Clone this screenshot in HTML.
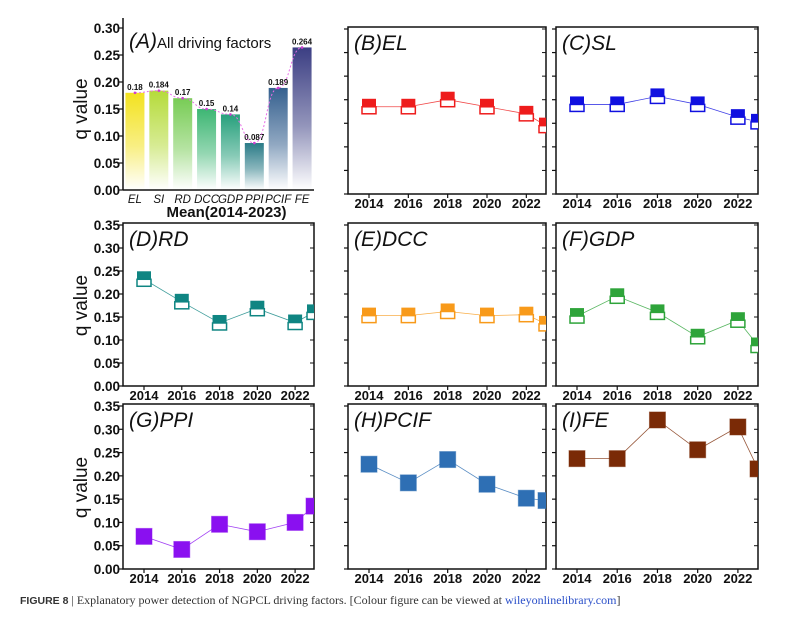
<!DOCTYPE html>
<html><head><meta charset="utf-8"><style>
body{margin:0;background:#fff;width:801px;height:629px;overflow:hidden;font-family:"Liberation Sans",sans-serif}
</style></head><body>
<svg id="fig" width="801" height="629" viewBox="0 0 801 629" xmlns="http://www.w3.org/2000/svg" font-family="Liberation Sans, sans-serif">
<defs id="defs"></defs>
<g id="root"></g>
<text x="20" y="604" style="font-family:'Liberation Serif',serif" font-size="12" fill="#333"><tspan style="font-family:'Liberation Sans',sans-serif" font-weight="bold" font-size="10.5">FIGURE 8</tspan>   |   Explanatory power detection of NGPCL driving factors. [Colour figure can be viewed at <tspan fill="#2a4fc9">wileyonlinelibrary.com</tspan>]</text>
</svg>
<script>
const barCats=["EL","SI","RD","DCC","GDP","PPI","PCIF","FE"];
const barVals=[0.18,0.184,0.17,0.15,0.14,0.087,0.189,0.264];
const barLabels=["0.18","0.184","0.17","0.15","0.14","0.087","0.189","0.264"];
const barColors=["#f3e21f","#b5db3a","#78cc55","#3db673","#27a07c","#2a7b87","#35608f","#3b3e83"];
const years=[2014,2016,2018,2020,2022,2023];
const yTicks=[0,0.05,0.10,0.15,0.20,0.25,0.30,0.35];
const xTicks=[2014,2016,2018,2020,2022];
const elVals=[0.185,0.185,0.20,0.185,0.17,0.145];
const slVals=[0.19,0.19,0.207,0.19,0.163,0.153];
const rdVals=[0.232,0.183,0.137,0.168,0.138,0.16];
const dccVals=[0.153,0.153,0.162,0.153,0.155,0.135];
const gdpVals=[0.152,0.195,0.160,0.107,0.143,0.088];
const ppiVals=[0.07,0.042,0.096,0.08,0.10,0.135];
const pcifVals=[0.225,0.185,0.235,0.182,0.152,0.147];
const feVals=[0.237,0.237,0.32,0.256,0.305,0.215];

const NS="http://www.w3.org/2000/svg";
const root=document.getElementById('root');
const defs=document.getElementById('defs');
function mk(tag,attrs,parent){const e=document.createElementNS(NS,tag);for(const k in attrs)e.setAttribute(k,attrs[k]);(parent||root).appendChild(e);return e;}

const cols=[[123,314],[348,546],[556,758]];
const rows=[[29,194],[225,386],[406,569]];

function drawAxes(g,l,r,top,bot,yMax,yt,showLabels,name){
  const ys=v=>bot-(v/yMax)*(bot-top);
  const box=mk('rect',{x:l,y:top-2,width:r-l,height:bot-top+2,fill:'none',stroke:'#111','stroke-width':1.5},g);
  
  
  yt.forEach(v=>{
    mk('line',{x1:l,x2:l-4,y1:ys(v),y2:ys(v),stroke:'#111','stroke-width':1.2},g);
    mk('line',{x1:r,x2:r-4,y1:ys(v),y2:ys(v),stroke:'#111','stroke-width':1},g);
    if(showLabels){const t=mk('text',{x:l-3,y:ys(v)+5,'text-anchor':'end','font-size':13.5,'font-weight':'bold',fill:'#111'},g);t.textContent=v.toFixed(2);
      
      }
  });
  return ys;
}

function linePanel(ci,ri,vals,color,label,half,name){
  const [l,r]=cols[ci],[top,bot]=rows[ri];
  const g=mk('g',{});
  
  
  const ys=drawAxes(g,l,r,top,bot,0.35,yTicks,ci===0,name);
  const x0=2014,x1=2023,px0=l+21;
  const xs=y=>px0+(y-x0)/(x1-x0)*(r-px0);
  xTicks.forEach(y=>{
    mk('line',{x1:xs(y),x2:xs(y),y1:bot,y2:bot+4,stroke:'#111','stroke-width':1.2},g);
    const t=mk('text',{x:xs(y),y:bot+14,'text-anchor':'middle','font-size':13,'font-weight':'bold',fill:'#111'},g);t.textContent=y;
    
    
  });
  const cp=mk('clipPath',{id:'c'+name},defs);mk('rect',{x:l,y:top-2,width:r-l,height:bot-top+2},cp);
  const pg=mk('g',{'clip-path':'url(#c'+name+')'},g);
  mk('polyline',{points:years.map((y,i)=>xs(y)+','+ys(vals[i])).join(' '),fill:'none',stroke:color,'stroke-width':0.8,opacity:0.8},pg);
  years.forEach((y,i)=>{
    const cx=xs(y),cy=ys(vals[i]);let m;
    if(half){
      m=mk('g',{},pg);
      mk('rect',{x:cx-7,y:cy-8,width:14,height:8,fill:color},m);
      mk('rect',{x:cx-7,y:cy,width:14,height:7,fill:'#fff',stroke:color,'stroke-width':1.5},m);
    }else{
      m=mk('rect',{x:cx-8,y:cy-8,width:16,height:16,fill:color,stroke:color,'stroke-opacity':0.5,'stroke-width':1},pg);
    }
    
    
  });
  const t=mk('text',{x:l+6,y:top+21,'font-size':21,'font-style':'italic',fill:'#111'},g);t.textContent=label;
  
  
  if(ci===0){const q=mk('text',{transform:`translate(${l-36},${(top+bot)/2}) rotate(-90)`,'text-anchor':'middle','font-size':19,fill:'#111'},g);q.textContent='q value';
    
    }
}

// Panel A
(function(){
  const l=123,r=314,top=28,bot=190;
  const g=mk('g',{});
  
  
  const t0=[0,0.05,0.10,0.15,0.20,0.25,0.30];
  const ys=v=>bot-(v/0.30)*(bot-top);
  t0.forEach(v=>{mk('line',{x1:l,x2:l-4,y1:ys(v),y2:ys(v),stroke:'#111','stroke-width':1.2},g);
    const t=mk('text',{x:l-3,y:ys(v)+5,'text-anchor':'end','font-size':13.5,'font-weight':'bold',fill:'#111'},g);t.textContent=v.toFixed(2);
    
    });
  mk('line',{x1:l,x2:l,y1:18,y2:bot,stroke:'#111','stroke-width':1.5},g);
  mk('line',{x1:l,x2:r,y1:bot,y2:bot,stroke:'#111','stroke-width':1.5},g);
  const step=(r-l)/barCats.length;
  const xs=i=>l+step*(i+0.5);
  const tops=[];
  barCats.forEach((c,i)=>{
    const gr=mk('linearGradient',{id:'gb'+i,x1:0,y1:0,x2:0,y2:1},defs);
    mk('stop',{offset:'0','stop-color':barColors[i]},gr);
    mk('stop',{offset:'0.55','stop-color':barColors[i],'stop-opacity':0.55},gr);
    mk('stop',{offset:'1','stop-color':barColors[i],'stop-opacity':0},gr);
    const y=ys(barVals[i]);tops.push([xs(i),y]);
    const b=mk('rect',{x:xs(i)-9.5,y:y,width:19,height:bot-y,fill:`url(#gb${i})`},g);
    
    
    const vl=mk('text',{x:xs(i),y:y-3,'text-anchor':'middle','font-size':8,'font-weight':'bold',fill:'#111'},g);vl.textContent=barLabels[i];
    
    
    const xl=mk('text',{x:xs(i),y:bot+13,'text-anchor':'middle','font-size':11.5,'font-style':'italic',fill:'#111'},g);xl.textContent=c;
    
    
  });
  let d='M'+tops[0][0]+','+tops[0][1];
  for(let i=1;i<tops.length;i++){const p=tops[i-1],q=tops[i];const mx=(p[0]+q[0])/2;d+=` C${mx},${p[1]} ${mx},${q[1]} ${q[0]},${q[1]}`;}
  mk('path',{d:d,fill:'none',stroke:'#e86ee8','stroke-width':1,'stroke-dasharray':'2,2'},g);
  tops.forEach(p=>mk('circle',{cx:p[0],cy:p[1],r:1.3,fill:'#d040d0'},g));
  const tt=mk('text',{x:l+6,y:top+20,'font-size':15,fill:'#111'},g);
  tt.innerHTML='<tspan font-size="21" font-style="italic">(A)</tspan>All driving factors';
  
  
  const xt=mk('text',{x:(l+r)/2+8,y:bot+27,'text-anchor':'middle','font-size':15,'font-weight':'bold',fill:'#111'},g);xt.textContent='Mean(2014-2023)';
  
  
  const q=mk('text',{transform:`translate(${l-36},${(top+bot)/2}) rotate(-90)`,'text-anchor':'middle','font-size':19,fill:'#111'},g);q.textContent='q value';
  
  
})();

linePanel(1,0,elVals,'#ee1c1c','(B)EL',true,'panel-b-el');
linePanel(2,0,slVals,'#1010e0','(C)SL',true,'panel-c-sl');
linePanel(0,1,rdVals,'#0f8582','(D)RD',true,'panel-d-rd');
linePanel(1,1,dccVals,'#f89a1a','(E)DCC',true,'panel-e-dcc');
linePanel(2,1,gdpVals,'#2ea43a','(F)GDP',true,'panel-f-gdp');
linePanel(0,2,ppiVals,'#8a10f0','(G)PPI',false,'panel-g-ppi');
linePanel(1,2,pcifVals,'#2e6fb4','(H)PCIF',false,'panel-h-pcif');
linePanel(2,2,feVals,'#7a2a06','(I)FE',false,'panel-i-fe');
</script>
</body></html>
